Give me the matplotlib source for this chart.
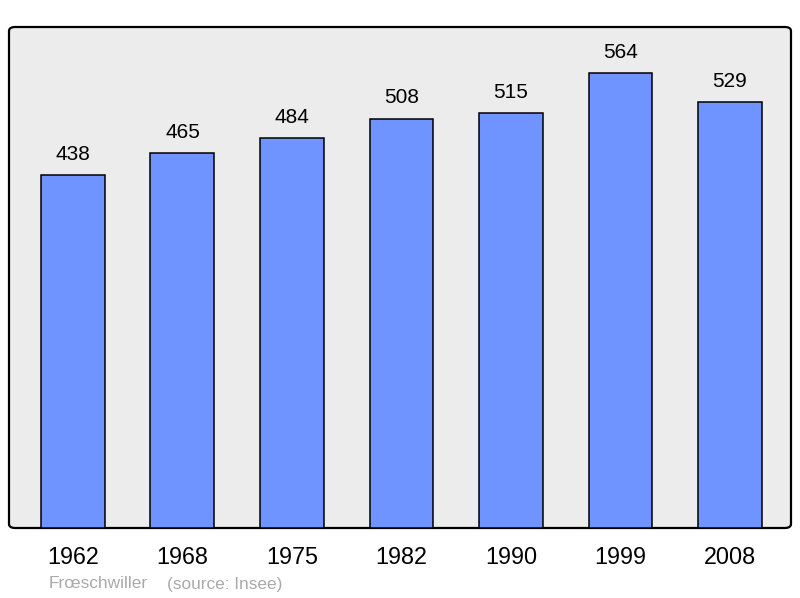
import matplotlib
matplotlib.use('Agg')
import matplotlib.pyplot as plt
from matplotlib.patches import FancyBboxPatch

years = ['1962', '1968', '1975', '1982', '1990', '1999', '2008']
population = [438, 465, 484, 508, 515, 564, 529]

plt.rcParams['font.family'] = ['Liberation Sans', 'DejaVu Sans']

fig = plt.figure(figsize=(8, 5.98), dpi=100)
ax = fig.add_axes([9/800, 70/598, 782/800, 501/598])
ax.set_facecolor('none')

# rounded frame behind the bars
frame = FancyBboxPatch((0, 0), 1, 1, boxstyle='round,pad=0,rounding_size=0.008',
                       transform=ax.transAxes, facecolor='#ececec',
                       edgecolor='black', linewidth=1.6, zorder=0, clip_on=False)
ax.add_patch(frame)

x = list(range(len(years)))
bars = ax.bar(x, population, width=0.584, color='#7094ff', edgecolor='black',
              linewidth=1.1, zorder=2)
for xi, v in zip(x, population):
    ax.annotate(str(v), (xi, v), xytext=(0, 8), textcoords='offset points',
                ha='center', va='bottom', fontsize=15, color='black')

ax.set_xlim(-0.584, 6.557)
ax.set_ylim(0, 621.6)
for s in ax.spines.values():
    s.set_visible(False)
ax.set_yticks([])
ax.set_xticks(x)
ax.set_xticklabels(years, fontsize=16.8)
ax.tick_params(axis='x', length=0, pad=13)

fig.text(49/800, 1 - 584/598, 'Frœschwiller', fontsize=12.4, color='#aaaaaa',
         ha='left', va='center')
fig.text(167/800, 1 - 584/598, '(source: Insee)', fontsize=12.4, color='#aaaaaa',
         ha='left', va='center')

fig.savefig('out.png', dpi=100)
